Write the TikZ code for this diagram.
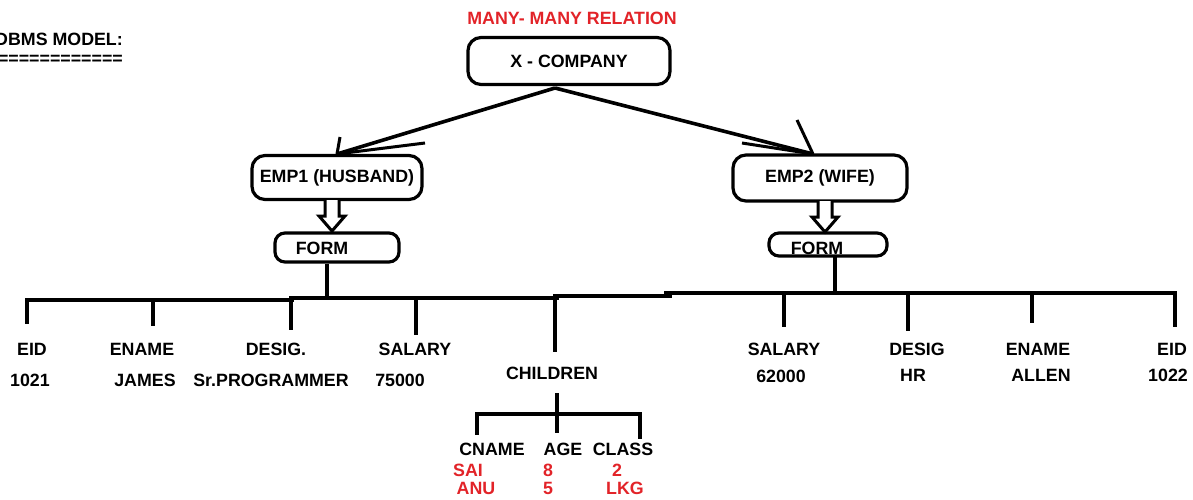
\documentclass[tikz,border=0pt]{standalone}
\usepackage{fontspec}
\setmainfont{Liberation Sans}
\usetikzlibrary{calc}
\definecolor{relred}{RGB}{226,35,40}
\begin{document}
\begin{tikzpicture}[x=1pt,y=-1pt,
  every node/.style={font=\fontsize{17.8}{20}\selectfont\bfseries, inner sep=0pt},
  lbl/.style={anchor=base},
  redlbl/.style={anchor=base, text=relred},
  rbox/.style={draw, line width=3.2pt, rounded corners=#1},
  rbox/.default=13pt,
  conn/.style={line width=3.6pt},
  bar/.style={line width=4pt, line cap=rect},
  tick/.style={line width=4pt},
  hollowdown/.pic={\draw[line width=3pt, line join=miter, fill=white]
      (-7,0) -- (-7,16) -- (-13,16) -- (0,31) -- (13,16) -- (7,16) -- (7,0);}
]
\useasboundingbox (0,0) rectangle (1193,499);

% heading, partly running off the left edge
\node[anchor=base east] (head) at (123,45) {DBMS MODEL:};
\node[anchor=base east] (headrule) at (123,64) {=============};
\node[redlbl] (rel) at (572,24.3) {MANY- MANY RELATION};

% entity boxes
\node[rbox, minimum width=202pt, minimum height=47pt] (company) at (569,61) {X - COMPANY};
\node[rbox, minimum width=170pt, minimum height=44pt] (emp1) at (337,177.5) {EMP1 (HUSBAND)};
\node[rbox, minimum width=174pt, minimum height=46pt] (emp2) at (820,178) {EMP2 (WIFE)};
\node[rbox=10pt, minimum width=124pt, minimum height=29pt] (form1) at (337,247.5) {};
\node[lbl] (form1t) at (322,254.3) {FORM};
\node[rbox=10pt, minimum width=118pt, minimum height=23pt] (form2) at (828,244.5) {};
\node[lbl] (form2t) at (817,254.5) {FORM};

% company to employees, with hand-drawn open heads
\coordinate (fork) at (555,88);
\coordinate (tip1) at (337,154);
\coordinate (tip2) at (813,154);
\draw[conn] (fork) -- (tip1);
\draw[conn] (fork) -- (tip2);
\draw[line width=3pt] (tip1) -- ++(3,-17);
\draw[line width=3pt] (tip1) -- ++(88,-11);
\draw[line width=3pt] (tip2) -- ++(-16,-34);
\draw[line width=3pt] (tip2) -- ++(-71,-11);

% employee to form
\pic at (332,200) {hollowdown};
\pic at (825,201) {hollowdown};

% husband's attribute bar
\draw[tick] (form1.south) ++(-10,0) coordinate (f1s) -- (f1s |- 0,297);
\draw[bar] (27,322) -- (27,300) -- (292,300);
\draw[bar] (291,298) -- (557,298);
\draw[bar] (555,295.5) -- (670,295.5);
\draw[tick] (153,300) -- (153,326);
\draw[tick] (291,298) -- (291,330);
\draw[tick] (416,298) -- (416,335);
\draw[tick] (555,298) -- (555,352);

% wife's attribute bar
\draw[tick] (835,256) -- (835,293);
\draw[bar] (666,293) -- (1175,293) -- (1175,325);
\draw[tick] (784,293) -- (784,327);
\draw[tick] (908,293) -- (908,331);
\draw[tick] (1032,293) -- (1032,323);

% husband's attributes
\node[lbl] (eid1) at (32,355.3) {EID};
\node[lbl] (eidv1) at (30,386.3) {1021};
\node[lbl] (en1) at (142,355.3) {ENAME};
\node[lbl] (env1) at (145,386.3) {JAMES};
\node[lbl] (ds1) at (276,355.3) {DESIG.};
\node[lbl] (dsv1) at (271,386.3) {Sr.PROGRAMMER};
\node[lbl] (sal1) at (415,355.3) {SALARY};
\node[lbl] (salv1) at (400,386.3) {75000};
\node[lbl] (child) at (552,379.3) {CHILDREN};

% wife's attributes
\node[lbl] (sal2) at (784,355.3) {SALARY};
\node[lbl] (salv2) at (781,382.3) {62000};
\node[lbl] (ds2) at (917,355.3) {DESIG};
\node[lbl] (dsv2) at (913,381.3) {HR};
\node[lbl] (en2) at (1038,355.3) {ENAME};
\node[lbl] (env2) at (1041,381.3) {ALLEN};
\node[lbl] (eid2) at (1172,355.3) {EID};
\node[lbl] (eidv2) at (1168,381.3) {1022};

% children table
\draw[tick] (557,393) -- (557,414);
\draw[bar] (477,433) -- (477,414) -- (640,414) -- (640,437);
\draw[tick] (557,414) -- (557,433);
\node[lbl] (cname) at (492,455.3) {CNAME};
\node[lbl] (age) at (563,455.3) {AGE};
\node[lbl] (cls) at (623,455.3) {CLASS};
\node[redlbl] (c1n) at (468,476.3) {SAI};
\node[redlbl] (c1a) at (548,476.3) {8};
\node[redlbl] (c1c) at (617,476.3) {2};
\node[redlbl] (c2n) at (476,494.3) {ANU};
\node[redlbl] (c2a) at (548,494.3) {5};
\node[redlbl] (c2c) at (625,494.3) {LKG};
\end{tikzpicture}
\end{document}
